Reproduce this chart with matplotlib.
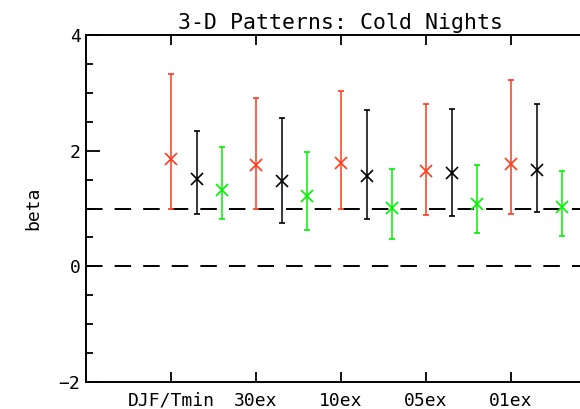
import matplotlib

matplotlib.use("Agg")
import matplotlib.pyplot as plt
import numpy as np

plt.rcParams["font.family"] = ["DejaVu Sans Mono", "DejaVu Sans"]

# Kategori dan nilai beta (tengah, batas bawah, batas atas)
categories = ["DJF/Tmin", "30ex", "10ex", "05ex", "01ex"]

red_mid = [1.85, 1.76, 1.79, 1.64, 1.77]
red_low = [1.00, 1.00, 1.00, 0.88, 0.91]
red_high = [3.32, 2.91, 3.04, 2.81, 3.22]

black_mid = [1.51, 1.47, 1.56, 1.61, 1.67]
black_low = [0.91, 0.75, 0.81, 0.87, 0.94]
black_high = [2.34, 2.57, 2.70, 2.72, 2.81]

green_mid = [1.32, 1.22, 1.01, 1.08, 1.03]
green_low = [0.81, 0.63, 0.47, 0.57, 0.53]
green_high = [2.07, 1.97, 1.68, 1.75, 1.65]

ref_lines = [1.0, 0.0]

fig = plt.figure(figsize=(5.8, 4.09), dpi=100)
ax = fig.add_axes([86 / 580, 27 / 409, 510 / 580, 347 / 409])

x = np.arange(1, len(categories) + 1)
series = [
    (red_mid, red_low, red_high, "#ff3a1a", 0.0),
    (black_mid, black_low, black_high, "black", 0.3),
    (green_mid, green_low, green_high, "#00f000", 0.6),
]
for mid, low, high, color, offset in series:
    mid = np.array(mid)
    err = [mid - np.array(low), np.array(high) - mid]
    ax.errorbar(
        x + offset,
        mid,
        yerr=err,
        fmt="x",
        color=color,
        ecolor=color,
        elinewidth=1.1,
        capsize=2.5,
        capthick=1.1,
        markersize=8,
        markeredgewidth=1.2,
        zorder=3,
    )

# Garis referensi putus-putus
for y in ref_lines:
    ax.axhline(y, color="black", linestyle=(0, (8.5, 6.2)), linewidth=1.4, zorder=2)

ax.set_xlim(0, 6)
ax.set_ylim(-2, 4)
ax.set_xticks(x)
ax.set_xticklabels(categories)
ax.set_yticks([-2, 0, 2, 4])
ax.set_yticks(np.arange(-2, 4.01, 0.5), minor=True)

ax.tick_params(axis="x", direction="in", top=True, length=7, width=1.3,
               labelsize=13, pad=7)
ax.tick_params(axis="y", which="major", direction="in", length=10, width=1.3,
               labelsize=13, pad=4)
ax.tick_params(axis="y", which="minor", direction="in", length=5, width=1.3)
ax.tick_params(axis="x", which="minor", bottom=False, top=False)

for side in ["left", "bottom", "top", "right"]:
    ax.spines[side].set_linewidth(1.4)

ax.set_ylabel("beta", fontsize=13, labelpad=12)
ax.set_title("3-D Patterns: Cold Nights", fontsize=15.5, pad=4)

fig.savefig("out.png", dpi=100)
